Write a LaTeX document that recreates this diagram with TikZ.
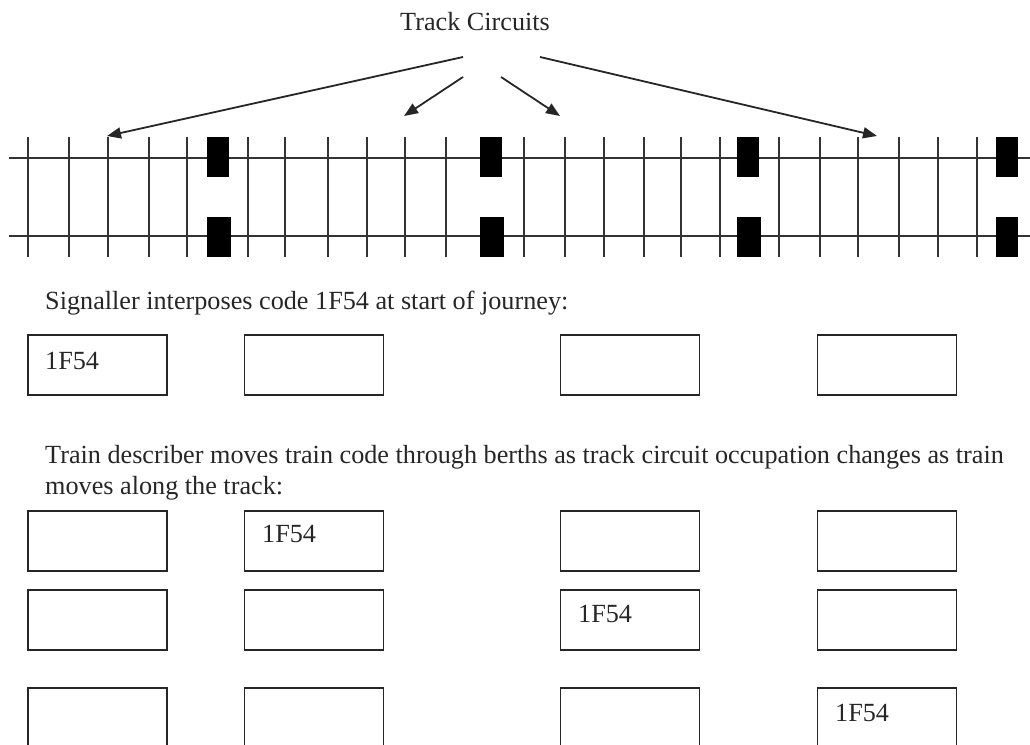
\documentclass[tikz,border=0pt]{standalone}
\usepackage{fontspec}
\setmainfont{Liberation Serif}
\usetikzlibrary{arrows.meta}
\tikzset{
  x=1pt,y=-1pt,
  rail/.style={line width=1.8pt,black!80},
  tie/.style={line width=1.8pt,black!80},
  block/.style={fill=black,draw=none},
  berth/.style={draw,line width=1.9pt,black!85,minimum width=139pt,minimum height=60pt,inner sep=0pt,outer sep=0pt,anchor=north west,rectangle},
  code/.style={font=\fontsize{26.2}{30}\selectfont,text=black!85,anchor=base west,inner sep=0pt},
  txt/.style={font=\fontsize{26.2}{30}\selectfont,text=black!85,anchor=base west,inner sep=0pt},
  pointer/.style={line width=1.8pt,black!85,-{Triangle[length=14pt,width=11pt]}}
}
\begin{document}
\begin{tikzpicture}
\useasboundingbox (0,0) rectangle (1030,744);
\clip (0,0) rectangle (1030,744);
\node[txt] (title) at (400,30) {Track Circuits};
\coordinate (aL1) at (463,57); \coordinate (aL2) at (463,77);
\coordinate (aR2) at (501,77); \coordinate (aR1) at (540,57);
\coordinate (t1) at (107,136); \coordinate (t2) at (404,116);
\coordinate (t3) at (560,116); \coordinate (t4) at (877,136);
\draw[pointer] (aL1) -- (t1);
\draw[pointer] (aL2) -- (t2);
\draw[pointer] (aR2) -- (t3);
\draw[pointer] (aR1) -- (t4);
\coordinate (r1a) at (9,158); \coordinate (r1b) at (1030,158);
\coordinate (r2a) at (9,236); \coordinate (r2b) at (1030,236);
\draw[rail] (r1a) -- (r1b);
\draw[rail] (r2a) -- (r2b);
\foreach \x in {28,69,108,149,187,248,285,328,367,405,446,524,565,604,644,681,720,779,820,858,899,938,977}
  \draw[tie] (\x,137) -- (\x,257);
\foreach \x/\w in {207/22,480/22,737/22,996/22}
  \fill[block] (\x,137) rectangle (\x+\w,177);
\foreach \x/\w in {207/24,480/24,737/24,996/22}
  \fill[block] (\x,216.5) rectangle (\x+\w,257);
\node[txt] (sig) at (45,309) {Signaller interposes code 1F54 at start of journey:};
\node[txt] (td1) at (45,463) {Train describer moves train code through berths as track circuit occupation changes as train};
\node[txt] (td2) at (45,494.5) {moves along the track:};
\foreach \r/\y in {a/335,b/511,c/590,d/688}
  \foreach \c/\x in {1/28,2/244.5,3/560.5,4/817.5}
    \node[berth] (b\r\c) at (\x,\y) {};
\node[code] (c1) at (45,369) {1F54};
\node[code] (c2) at (262,542.5) {1F54};
\node[code] (c3) at (578,622) {1F54};
\node[code] (c4) at (835,721.5) {1F54};
\end{tikzpicture}
\end{document}
